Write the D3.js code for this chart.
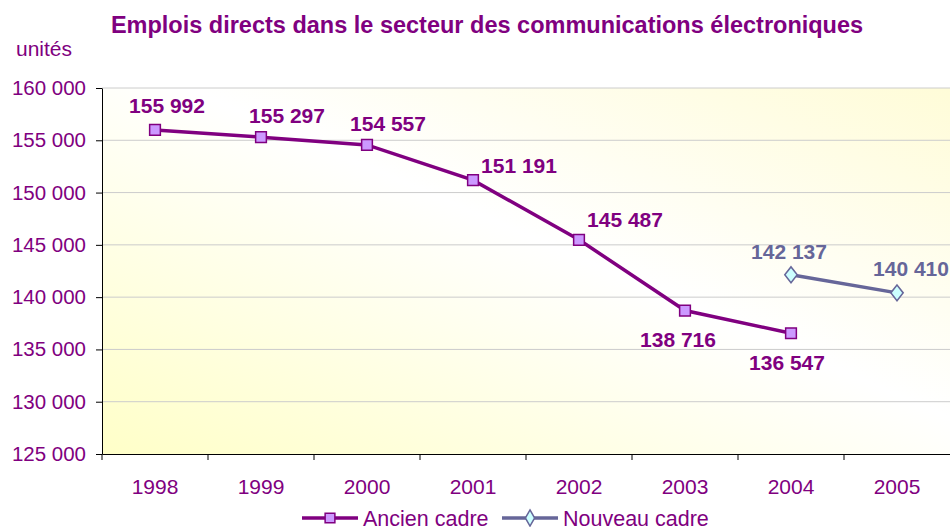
<!DOCTYPE html>
<html>
<head>
<meta charset="utf-8">
<script src="https://cdn.jsdelivr.net/npm/d3@7"></script>
<style>
  body { margin: 0; background: #fff; }
  svg { font-family: "Liberation Sans", Arial, sans-serif; }
</style>
</head>
<body>
<svg id="chart" width="950" height="527"></svg>
<script>
// data
var years = ["1998", "1999", "2000", "2001", "2002", "2003", "2004", "2005"];
var ancienCadre = [155992, 155297, 154557, 151191, 145487, 138716, 136547, null];
var nouveauCadre = [null, null, null, null, null, null, 142137, 140410];
var yTicks = [125000, 130000, 135000, 140000, 145000, 150000, 155000, 160000];

// label placement (dx, dy from marker)
var ancienLabelOffset = [[12, -24], [26, -22], [21, -21], [46, -14], [46, -20], [-7, 29], [-4, 29]];
var nouveauLabelOffset = [null, null, null, null, null, null, [-2, -23], [14, -24]];

var purple = "#800080", slate = "#666699";

var svg = d3.select("#chart");
var m = { left: 102, right: 950, top: 88, bottom: 454 };

var x = d3.scaleBand().domain(years).range([m.left, m.right]);
var y = d3.scaleLinear().domain([125000, 160000]).range([m.bottom, m.top]);

// background gradient
var defs = svg.append("defs");
var grad = defs.append("linearGradient").attr("id", "bg")
    .attr("x1", "0%").attr("y1", "100%").attr("x2", "100%").attr("y2", "0%");
grad.append("stop").attr("offset", "0%").attr("stop-color", "#FFFFC8");
grad.append("stop").attr("offset", "55%").attr("stop-color", "#FFFFFF");
grad.append("stop").attr("offset", "100%").attr("stop-color", "#FFFCD8");

svg.append("rect")
    .attr("x", m.left).attr("y", m.top)
    .attr("width", m.right - m.left).attr("height", m.bottom - m.top)
    .attr("fill", "url(#bg)");

// gridlines
svg.append("g").selectAll("line")
    .data(yTicks.slice(1))
    .enter().append("line")
    .attr("x1", m.left).attr("x2", m.right)
    .attr("y1", function (d) { return y(d); })
    .attr("y2", function (d) { return y(d); })
    .attr("stroke", "#cccccc").attr("stroke-width", 1);

// axes
var fmt = function (d) { return d3.format(",")(d).replace(/,/g, " "); };

var yAxis = svg.append("g")
    .attr("transform", "translate(" + m.left + ",0)")
    .call(d3.axisLeft(y).tickValues(yTicks).tickFormat(fmt).tickSize(6).tickSizeOuter(0));
yAxis.select(".domain").attr("stroke", "#000");
yAxis.selectAll(".tick line").attr("stroke", "#000");
yAxis.selectAll("text").attr("fill", purple).style("font-size", "20.5px").attr("x", -16);

var xAxis = svg.append("g")
    .attr("transform", "translate(0," + m.bottom + ")")
    .call(d3.axisBottom(x).tickSize(0).tickSizeOuter(0));
xAxis.select(".domain").attr("stroke", "#000");
xAxis.selectAll("text").attr("fill", purple).style("font-size", "21px").attr("dy", "0.71em").attr("y", 25);

// category boundary ticks
svg.append("g").selectAll("line")
    .data(years)
    .enter().append("line")
    .attr("x1", function (d) { return x(d); })
    .attr("x2", function (d) { return x(d); })
    .attr("y1", m.bottom).attr("y2", m.bottom + 6)
    .attr("stroke", "#000");

// series
function drawSeries(values, color, markerFill, shape, offsets) {
    var pts = [];
    values.forEach(function (v, i) {
        if (v !== null) pts.push({ year: years[i], value: v, off: offsets[i] });
    });
    var line = d3.line()
        .x(function (d) { return x(d.year) + x.bandwidth() / 2; })
        .y(function (d) { return y(d.value); });
    svg.append("path").datum(pts)
        .attr("d", line).attr("fill", "none")
        .attr("stroke", color).attr("stroke-width", 3.5);

    var sym = d3.symbol().type(shape).size(shape === d3.symbolSquare ? 115 : 100);
    svg.append("g").selectAll("path")
        .data(pts).enter().append("path")
        .attr("d", sym)
        .attr("transform", function (d) {
            return "translate(" + (x(d.year) + x.bandwidth() / 2) + "," + y(d.value) + ")" +
                (shape === d3.symbolDiamond ? " scale(1.15,0.85)" : "");
        })
        .attr("fill", markerFill).attr("stroke", color).attr("stroke-width", 1.5);

    svg.append("g").selectAll("text")
        .data(pts).enter().append("text")
        .attr("x", function (d) { return x(d.year) + x.bandwidth() / 2 + d.off[0]; })
        .attr("y", function (d) { return y(d.value) + d.off[1]; })
        .attr("text-anchor", "middle").attr("dy", "0.35em")
        .attr("fill", color).style("font-size", "21px").style("font-weight", "bold")
        .text(function (d) { return fmt(d.value); });
}

drawSeries(ancienCadre, purple, "#CC99FF", d3.symbolSquare, ancienLabelOffset);
drawSeries(nouveauCadre, slate, "#CCFFFF", d3.symbolDiamond, nouveauLabelOffset);

// title and unit
svg.append("text").attr("x", 487).attr("y", 33).attr("text-anchor", "middle")
    .attr("fill", purple).style("font-size", "23.5px").style("font-weight", "bold")
    .text("Emplois directs dans le secteur des communications électroniques");
svg.append("text").attr("x", 16).attr("y", 56)
    .attr("fill", purple).style("font-size", "21px").text("unités");

// legend
var legend = [
    { name: "Ancien cadre", color: purple, fill: "#CC99FF", shape: d3.symbolSquare, x: 302 },
    { name: "Nouveau cadre", color: slate, fill: "#CCFFFF", shape: d3.symbolDiamond, x: 502 }
];
var lg = svg.append("g").selectAll("g").data(legend).enter().append("g")
    .attr("transform", function (d) { return "translate(" + d.x + ",518)"; });
lg.append("line").attr("x1", 0).attr("x2", 56).attr("y1", 0).attr("y2", 0)
    .attr("stroke", function (d) { return d.color; }).attr("stroke-width", 3.5);
lg.append("path")
    .attr("d", function (d) { return d3.symbol().type(d.shape).size(d.shape === d3.symbolSquare ? 95 : 75)(); })
    .attr("transform", "translate(28,0)")
    .attr("fill", function (d) { return d.fill; })
    .attr("stroke", function (d) { return d.color; }).attr("stroke-width", 1.5);
lg.append("text").attr("x", 61).attr("dy", "0.35em")
    .attr("fill", purple).style("font-size", "21.5px")
    .text(function (d) { return d.name; });
</script>
</body>
</html>
